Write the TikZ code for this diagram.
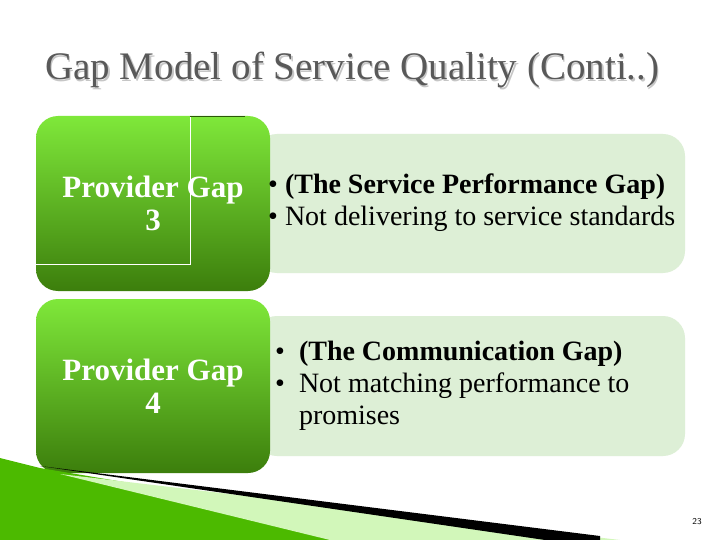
\documentclass[tikz,border=0pt]{standalone}
\usepackage{fontspec}
\setmainfont{Liberation Serif}
\definecolor{gtop}{HTML}{7FE83A}
\definecolor{gbot}{HTML}{3C7E0C}
\definecolor{pale}{HTML}{DDEFD6}
\definecolor{titlec}{HTML}{595959}
\begin{document}
\begin{tikzpicture}[x=1pt,y=-1pt,
  gbox/.style={rounded corners=22pt,top color=gtop,bottom color=gbot},
  pbox/.style={rounded corners=22pt,fill=pale},
  gtext/.style={text=white,font=\fontsize{31}{33}\selectfont\bfseries,align=center},
  btext/.style={anchor=west,font=\fontsize{28}{32}\selectfont,align=left}]
\useasboundingbox (0,0) rectangle (720,540);
\fill[white] (0,0) rectangle (720,540);
% title
\node[anchor=west,text=gray!45,font=\fontsize{39}{42}\selectfont,inner sep=0] at (46.5,71.5) {Gap Model of Service Quality (Conti..)};
\node (title) [anchor=west,text=titlec,font=\fontsize{39}{42}\selectfont,inner sep=0] at (45,70) {Gap Model of Service Quality (Conti..)};
% pale boxes
\path[pbox] (255,134) rectangle (685,273);
\path[pbox] (255,316) rectangle (685,456);
% green boxes
\path[gbox] (36,116) rectangle (270,291);
\draw[white,line width=0.8pt] (36,264) -- (190,264) -- (190,116);
\draw[gbot!70!black,line width=1pt] (190,116.5) -- (245,116.5);
\path[gbox] (36,299) rectangle (270,473);
\node[gtext] (g1) at (153,203) {Provider Gap\\3};
\node[gtext] (g2) at (153,386) {Provider Gap\\4};
% bullet texts
\node[btext,inner sep=0] (t1) at (268,203) {\textbullet\ \textbf{(The Service Performance Gap)}\\\textbullet\ Not delivering to service standards};
\node[btext,inner sep=0] (t2) at (275,386) {\textbullet\ \ \textbf{(The Communication Gap)}\\\textbullet\ \ Not matching performance to\\\hphantom{\textbullet\ \ }promises};
% bottom-left decoration
\fill[green!55!black!60!lime] (0,458) -- (40,468) -- (470,540) -- (0,540) -- cycle;
\fill[gtop!35!white] (60,474) -- (620,540) -- (330,540) -- cycle;
\fill[black] (40,466) -- (120,476) -- (600,536) -- (600,540) -- (545,540) -- cycle;
\node (pg) at (697,522) {\fontsize{9}{10}\selectfont\sffamily 23};
\end{tikzpicture}
\end{document}
